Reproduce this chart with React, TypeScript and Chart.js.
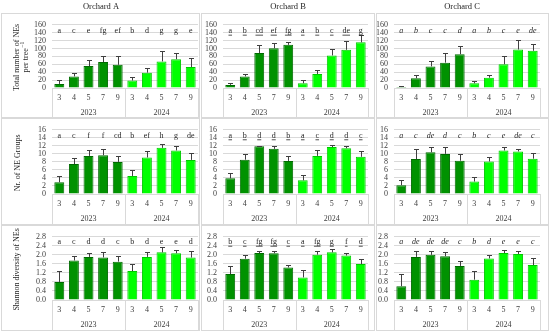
import React, { useEffect, useRef } from 'react';
import { Chart, registerables } from 'chart.js';
Chart.register(...registerables);

const FONT = '"Liberation Serif", "Times New Roman", serif';

const ORCHARDS = ['Orchard A', 'Orchard B', 'Orchard C'];
const MONTHS = ['3', '4', '5', '7', '9'];
const YEARS = ['2023', '2024'];
const Y_TITLES = [['Total number of NEs', 'per tree'], ['Nr. of NE Groups'], ['Shannon diversity of NEs']];
const Y_MAX = [160, 16, 2.8];
const Y_STEP = [20, 2, 0.4];
const Y_DECIMALS = [0, 0, 1];
const LETTER_LEVEL = [145, 14.6, 2.58];

// Each array: 2023 (months 3,4,5,7,9) followed by 2024 (months 3,4,5,7,9)
// Total number of NEs per tree
const totalA = [10.3, 29.3, 55.4, 65.7, 58.6, 19, 38.8, 67.3, 72.9, 53.2];
const totalAErr = [11.1, 8.7, 15.6, 15.9, 23.0, 8.7, 12.7, 26.2, 15.1, 21.5];
const totalALetters = ['a', 'c', 'e', 'fg', 'ef', 'b', 'd', 'g', 'g', 'e'];
const totalB = [7.9, 29.3, 88.7, 100.6, 109.3, 11.9, 35.6, 82.4, 96.6, 115.6];
const totalBErr = [4.0, 6.3, 20.3, 12.4, 7.1, 7.9, 9.4, 15.8, 21.4, 19.1];
const totalBLetters = ['a', 'b', 'cd', 'ef', 'fg', 'a', 'b', 'c', 'de', 'g'];
const totalC = [2.4, 24.6, 54.7, 64.2, 85.5, 11.9, 26.1, 60.2, 97.4, 94.3];
const totalCErr = [3.9, 9.4, 12.6, 24.5, 21.5, 6.3, 7.9, 19.8, 24.6, 17.4];
const totalCLetters = ['a', 'b', 'c', 'c', 'd', 'a', 'b', 'c', 'e', 'de'];

// Nr. of NE groups
const groupsA = [2.93, 7.45, 9.5, 9.66, 8.0, 4.5, 9.1, 11.5, 10.85, 8.5];
const groupsAErr = [1.47, 1.45, 1.5, 1.64, 1.5, 1.4, 1.5, 0.9, 1.15, 1.6];
const groupsALetters = ['a', 'c', 'f', 'f', 'cd', 'b', 'ef', 'h', 'g', 'de'];
const groupsB = [3.9, 8.55, 11.9, 11.25, 8.24, 3.4, 9.5, 11.7, 11.4, 9.27];
const groupsBErr = [1.4, 1.45, 0.1, 0.75, 1.16, 1.35, 1.35, 0.5, 0.6, 1.33];
const groupsBLetters = ['a', 'b', 'd', 'd', 'b', 'a', 'c', 'd', 'd', 'c'];
const groupsC = [2.2, 8.7, 10.4, 10.0, 8.3, 3.1, 8.1, 10.85, 10.6, 8.8];
const groupsCErr = [1.36, 2.4, 1.2, 1.6, 1.6, 1.26, 1.0, 0.95, 0.65, 1.5];
const groupsCLetters = ['a', 'c', 'de', 'd', 'c', 'b', 'c', 'e', 'de', 'c'];

// Shannon diversity of NEs
const shannonA = [0.8, 1.75, 1.91, 1.885, 1.7, 1.28, 1.91, 2.11, 2.07, 1.88];
const shannonAErr = [0.5, 0.19, 0.18, 0.225, 0.24, 0.33, 0.22, 0.22, 0.16, 0.28];
const shannonALetters = ['a', 'c', 'd', 'd', 'c', 'b', 'd', 'e', 'e', 'd'];
const shannonB = [1.15, 1.83, 2.08, 2.07, 1.44, 1.0, 2.01, 2.11, 1.97, 1.59];
const shannonBErr = [0.35, 0.15, 0.11, 0.08, 0.11, 0.32, 0.14, 0.16, 0.12, 0.21];
const shannonBLetters = ['b', 'c', 'fg', 'fg', 'c', 'a', 'fg', 'g', 'f', 'd'];
const shannonC = [0.61, 1.91, 2.0, 1.94, 1.51, 0.9, 1.84, 2.08, 2.04, 1.55];
const shannonCErr = [0.54, 0.28, 0.15, 0.17, 0.22, 0.4, 0.17, 0.14, 0.11, 0.31];
const shannonCLetters = ['a', 'de', 'de', 'de', 'c', 'b', 'd', 'e', 'e', 'c'];

const PANELS = [
  [
    { mean: totalA, err: totalAErr, letters: totalALetters },
    { mean: totalB, err: totalBErr, letters: totalBLetters },
    { mean: totalC, err: totalCErr, letters: totalCLetters },
  ],
  [
    { mean: groupsA, err: groupsAErr, letters: groupsALetters },
    { mean: groupsB, err: groupsBErr, letters: groupsBLetters },
    { mean: groupsC, err: groupsCErr, letters: groupsCLetters },
  ],
  [
    { mean: shannonA, err: shannonAErr, letters: shannonALetters },
    { mean: shannonB, err: shannonBErr, letters: shannonBLetters },
    { mean: shannonC, err: shannonCErr, letters: shannonCLetters },
  ],
];

const COLORS_2023 = { fill: '#009200', border: '#006a00' };
const COLORS_2024 = { fill: '#00ff00', border: '#00c800' };

const COLS = [
  { left: 2, width: 197, yW: 50, padR: 1, frameL: 1, frameW: 199 },
  { left: 202, width: 172, yW: 21, padR: 6, frameL: 201, frameW: 174 },
  { left: 377, width: 171, yW: 17, padR: 8, frameL: 376, frameW: 173 },
];
const ROWS = [
  { top: 14, height: 103, padT: 7, xH: 29, frameT: 13, frameH: 105 },
  { top: 119, height: 105, padT: 8, xH: 30, frameT: 118, frameH: 107 },
  { top: 226, height: 104, padT: 7, xH: 30, frameT: 225, frameH: 106 },
];
const TITLE_X = [101, 288, 462];

function Titles() {
  const ref = useRef<HTMLCanvasElement | null>(null);
  useEffect(() => {
    const c = ref.current;
    if (!c) return;
    const ctx = c.getContext('2d');
    if (!ctx) return;
    ctx.clearRect(0, 0, 550, 13);
    ctx.fillStyle = '#262626';
    ctx.font = '8.5px ' + FONT;
    ctx.textAlign = 'center';
    ctx.textBaseline = 'middle';
    ORCHARDS.forEach((t, i) => ctx.fillText(t, TITLE_X[i], 7));
  }, []);
  return <canvas ref={ref} width={550} height={13} style={{ position: 'absolute', left: 0, top: 0, width: 550, height: 13 }} />;
}

function Panel({ row, col }: { row: number; col: number }) {
  const ref = useRef<HTMLCanvasElement | null>(null);
  const R = ROWS[row];
  const C = COLS[col];
  useEffect(() => {
    const canvas = ref.current;
    if (!canvas) return;
    const p = PANELS[row][col];
    const n = p.mean.length;
    const fills = p.mean.map((_, i) => (i < 5 ? COLORS_2023.fill : COLORS_2024.fill));
    const borders = p.mean.map((_, i) => (i < 5 ? COLORS_2023.border : COLORS_2024.border));

    const extras = {
      id: 'panelExtras' + row + col,
      afterDatasetsDraw(chart: any) {
        const { ctx, chartArea } = chart;
        const xs = chart.scales.x;
        const ys = chart.scales.y;
        ctx.save();
        // error bars (plus direction)
        ctx.strokeStyle = '#404040';
        ctx.lineWidth = 1;
        for (let i = 0; i < n; i++) {
          const cx = Math.round(xs.getPixelForValue(i)) + 0.5;
          const y0 = ys.getPixelForValue(p.mean[i]);
          const y1 = Math.round(ys.getPixelForValue(p.mean[i] + p.err[i])) + 0.5;
          ctx.beginPath();
          ctx.moveTo(cx, y0);
          ctx.lineTo(cx, y1);
          ctx.moveTo(cx - 2.5, y1);
          ctx.lineTo(cx + 2.5, y1);
          ctx.stroke();
        }
        // significance letters
        const italic = col === 2;
        const underline = col === 1;
        ctx.fillStyle = '#262626';
        ctx.font = (italic ? 'italic ' : '') + '8px ' + FONT;
        ctx.textAlign = 'center';
        ctx.textBaseline = 'middle';
        const ly = ys.getPixelForValue(LETTER_LEVEL[row]);
        for (let i = 0; i < n; i++) {
          const cx = xs.getPixelForValue(i);
          const t = p.letters[i];
          ctx.fillText(t, cx, ly);
          if (underline) {
            const w = ctx.measureText(t).width;
            ctx.fillRect(cx - w / 2, ly + 4, w, 0.8);
          }
        }
        // category dividers and year labels
        const mid = (xs.getPixelForValue(4) + xs.getPixelForValue(5)) / 2;
        ctx.strokeStyle = '#d9d9d9';
        ctx.beginPath();
        [chartArea.left, mid, chartArea.right].forEach((xx: number) => {
          const px = Math.round(xx) + 0.5;
          ctx.moveTo(px, chartArea.bottom);
          ctx.lineTo(px, chart.height);
        });
        ctx.stroke();
        ctx.fillStyle = '#404040';
        ctx.font = '8px ' + FONT;
        const yy = chartArea.bottom + 25;
        ctx.fillText(YEARS[0], (chartArea.left + mid) / 2, yy);
        ctx.fillText(YEARS[1], (mid + chartArea.right) / 2, yy);
        // y axis title (only first column)
        if (col === 0) {
          const lines = Y_TITLES[row];
          const cy = (chartArea.top + chartArea.bottom) / 2 + 1;
          const xPos = row === 0 ? [15, 24] : row === 1 ? [16] : [15];
          ctx.fillStyle = '#262626';
          lines.forEach((line, li) => {
            ctx.save();
            ctx.translate(xPos[li], cy);
            ctx.rotate(-Math.PI / 2);
            ctx.font = '8px ' + FONT;
            ctx.textBaseline = 'middle';
            if (row === 0 && li === 1) {
              const w1 = ctx.measureText(line).width;
              ctx.font = '5.5px ' + FONT;
              const w2 = ctx.measureText('\u22121').width;
              const start = -(w1 + w2) / 2;
              ctx.textAlign = 'left';
              ctx.font = '8px ' + FONT;
              ctx.fillText(line, start, 0);
              ctx.font = '5.5px ' + FONT;
              ctx.fillText('\u22121', start + w1 + 0.5, -3);
            } else {
              ctx.textAlign = 'center';
              ctx.fillText(line, 0, 0);
            }
            ctx.restore();
          });
        }
        ctx.restore();
      },
    };

    const chart = new Chart(canvas, {
      type: 'bar',
      data: {
        labels: [...MONTHS, ...MONTHS],
        datasets: [
          {
            data: p.mean,
            backgroundColor: fills,
            borderColor: borders,
            borderWidth: 1,
            categoryPercentage: 1,
            barPercentage: 0.68,
          },
        ],
      },
      options: {
        responsive: false,
        animation: false,
        devicePixelRatio: 1,
        layout: { padding: { top: R.padT, right: C.padR, left: 0, bottom: 0 } },
        plugins: { legend: { display: false }, tooltip: { enabled: false }, title: { display: false } },
        scales: {
          x: {
            grid: { display: false, drawTicks: false },
            border: { display: true, color: '#d9d9d9' },
            ticks: { font: { family: FONT, size: 8 }, color: '#404040', padding: 5, maxRotation: 0, autoSkip: false },
            afterFit: (s: any) => {
              s.height = R.xH;
            },
          },
          y: {
            min: 0,
            max: Y_MAX[row],
            grid: { color: '#d9d9d9', drawTicks: false },
            border: { display: false },
            ticks: {
              stepSize: Y_STEP[row],
              autoSkip: false,
              font: { family: FONT, size: 8 },
              color: '#404040',
              padding: 6,
              callback: (v: any) => Number(v).toFixed(Y_DECIMALS[row]),
            },
            afterFit: (s: any) => {
              s.width = C.yW;
            },
          },
        },
      },
      plugins: [extras],
    } as any);
    return () => chart.destroy();
  }, [row, col]);

  return (
    <canvas
      ref={ref}
      width={C.width}
      height={R.height}
      style={{ position: 'absolute', left: C.left, top: R.top, width: C.width, height: R.height }}
    />
  );
}

export default function App() {
  const cells: any[] = [];
  for (let r = 0; r < 3; r++) {
    for (let c = 0; c < 3; c++) {
      const R = ROWS[r];
      const C = COLS[c];
      cells.push(
        <div
          key={'f' + r + c}
          style={{
            position: 'absolute',
            left: C.frameL,
            top: R.frameT,
            width: C.frameW,
            height: R.frameH,
            border: '1px solid #d9d9d9',
            boxSizing: 'border-box',
          }}
        />
      );
      cells.push(<Panel key={'p' + r + c} row={r} col={c} />);
    }
  }
  return (
    <div style={{ position: 'fixed', left: 0, top: 0, width: 550, height: 336, background: '#fff', overflow: 'hidden' }}>
      <Titles />
      {cells}
    </div>
  );
}
